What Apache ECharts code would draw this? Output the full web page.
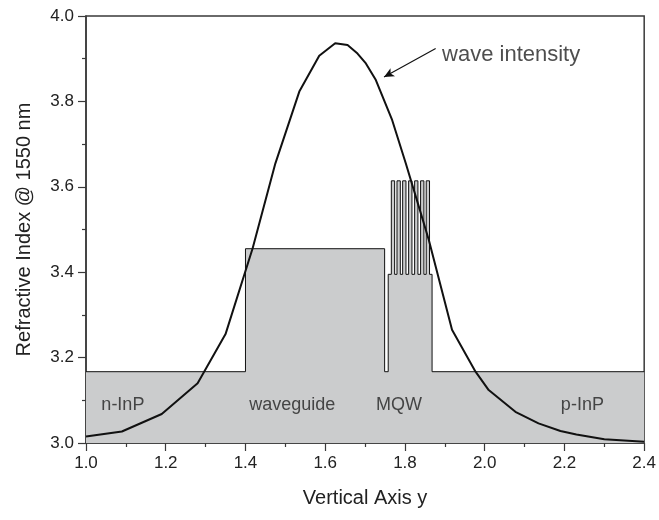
<!DOCTYPE html>
<html>
<head>
<meta charset="utf-8">
<script src="https://cdn.jsdelivr.net/npm/echarts@6/dist/echarts.min.js"></script>
<style>html,body{margin:0;padding:0;background:#fff}#c{width:659px;height:520px}</style>
</head>
<body>
<div id="c"></div>
<script>
// Refractive index profile: layer start, layer end, index
const layerStart = [1.0, 1.40, 1.749, 1.758, 1.7658, 1.7741, 1.7800, 1.7883, 1.7942, 1.8025, 1.8092, 1.8175, 1.8242, 1.8325, 1.8392, 1.8475, 1.8533, 1.8616, 1.868];
const layerEnd   = [1.40, 1.749, 1.758, 1.7658, 1.7741, 1.7800, 1.7883, 1.7942, 1.8025, 1.8092, 1.8175, 1.8242, 1.8325, 1.8392, 1.8475, 1.8533, 1.8616, 1.868, 2.4];
const layerIndex = [3.167, 3.455, 3.167, 3.395, 3.614, 3.395, 3.614, 3.395, 3.614, 3.395, 3.614, 3.395, 3.614, 3.395, 3.614, 3.395, 3.614, 3.395, 3.167];

// Wave intensity curve
const waveX = [1.00, 1.09, 1.19, 1.28, 1.35, 1.418, 1.475, 1.535, 1.585, 1.625, 1.656, 1.681, 1.702, 1.727, 1.768, 1.802, 1.835, 1.86, 1.918, 1.977, 2.01, 2.077, 2.135, 2.19, 2.23, 2.30, 2.40];
const waveY = [3.015, 3.027, 3.068, 3.14, 3.255, 3.456, 3.655, 3.823, 3.907, 3.936, 3.932, 3.912, 3.889, 3.850, 3.756, 3.655, 3.553, 3.475, 3.265, 3.167, 3.124, 3.073, 3.046, 3.028, 3.020, 3.009, 3.003];

// Region labels
const regionNames = ['n-InP', 'waveguide', 'MQW', 'p-InP'];
const regionX = [1.0925, 1.5175, 1.785, 2.245];
const regionY = [3.089, 3.089, 3.089, 3.089];

// Annotation
const annotText = 'wave intensity';
const annotTail = [1.877, 3.924];
const annotHead = [1.7475, 3.857];
const annotTextPos = [1.893, 3.909];

const xTicks = {min: 1.0, max: 2.4, interval: 0.2};
const yTicks = {min: 3.0, max: 4.0, interval: 0.2};

const profile = [];
for (let i = 0; i < layerStart.length; i++) {
  profile.push([layerStart[i], layerIndex[i]]);
  profile.push([layerEnd[i], layerIndex[i]]);
}
const wave = waveX.map((x, i) => [x, waveY[i]]);
const regions = regionNames.map((n, i) => ({value: [regionX[i], regionY[i]], name: n}));

const FONT = 'Liberation Sans, Arial, Helvetica, sans-serif';
const axisCol = '#3a3a3a';

const chart = echarts.init(document.getElementById('c'), null, {renderer: 'canvas'});
chart.setOption({
  animation: false,
  backgroundColor: '#fff',
  grid: {left: 86, right: 14, top: 16, bottom: 77, show: true, borderColor: axisCol, borderWidth: 1.5, backgroundColor: 'transparent'},
  xAxis: {
    type: 'value', min: xTicks.min, max: xTicks.max, interval: xTicks.interval,
    name: 'Vertical Axis y', nameLocation: 'middle', nameGap: 45,
    nameTextStyle: {fontFamily: FONT, fontSize: 20, color: '#222'},
    axisLine: {onZero: false, lineStyle: {color: axisCol, width: 1.5}},
    axisTick: {show: true, inside: false, length: 8, lineStyle: {color: axisCol, width: 1.2}},
    minorTick: {show: true, splitNumber: 2, length: 4, lineStyle: {color: axisCol, width: 1.2}},
    axisLabel: {fontFamily: FONT, fontSize: 17, color: '#222', margin: 12, formatter: v => v.toFixed(1)},
    splitLine: {show: false}
  },
  yAxis: {
    type: 'value', min: yTicks.min, max: yTicks.max, interval: yTicks.interval,
    name: 'Refractive Index @ 1550 nm', nameLocation: 'middle', nameGap: 52,
    nameTextStyle: {fontFamily: FONT, fontSize: 20, color: '#222'},
    axisLine: {onZero: false, lineStyle: {color: axisCol, width: 1.5}},
    axisTick: {show: true, inside: false, length: 8, lineStyle: {color: axisCol, width: 1.2}},
    minorTick: {show: true, splitNumber: 2, length: 4, lineStyle: {color: axisCol, width: 1.2}},
    axisLabel: {fontFamily: FONT, fontSize: 17, color: '#222', margin: 12, formatter: v => v.toFixed(1)},
    splitLine: {show: false}
  },
  series: [
    {
      name: 'profile', type: 'line', data: profile, symbol: 'none', z: 2,
      lineStyle: {color: '#111', width: 1},
      areaStyle: {color: '#cbcccd', opacity: 1, origin: 'start'}
    },
    {
      name: 'wave', type: 'line', data: wave, symbol: 'none', z: 3,
      lineStyle: {color: '#111', width: 2},
      markLine: {
        silent: true, symbol: ['none', 'arrow'], symbolSize: [7, 10],
        lineStyle: {color: '#111', width: 1.2, type: 'solid'},
        label: {show: false},
        data: [[{coord: annotTail}, {coord: annotHead}]]
      }
    },
    {
      name: 'labels', type: 'scatter', symbolSize: 0, z: 4,
      data: regions,
      label: {show: true, position: 'inside', formatter: p => p.name, fontFamily: FONT, fontSize: 18, color: '#222'}
    },
    {
      name: 'annot', type: 'scatter', symbolSize: 0, z: 4,
      data: [{value: annotTextPos, name: annotText}],
      label: {show: true, position: 'right', distance: 0, formatter: p => p.name, fontFamily: FONT, fontSize: 22, color: '#222'}
    }
  ]
});
</script>
</body>
</html>
